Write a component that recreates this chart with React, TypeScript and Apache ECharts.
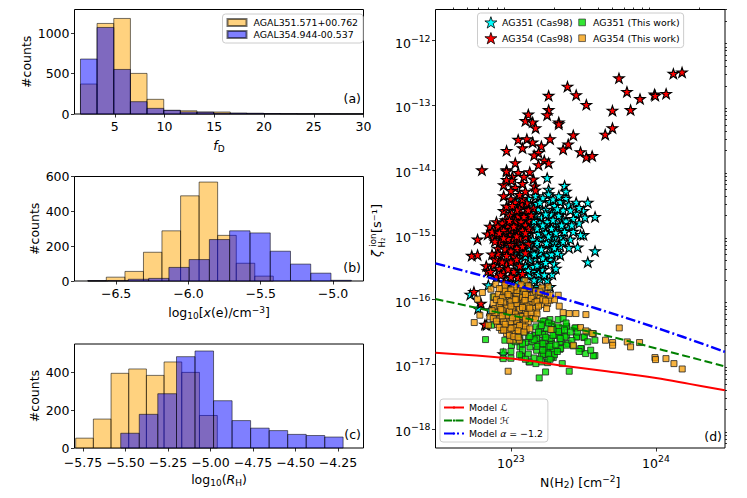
import React, { useEffect, useRef } from "react";
import * as echarts from "echarts";

const FONT = "DejaVu Sans";

// Panel (a)
const edgesA = [1.55, 3.22, 4.9, 6.57, 8.24, 9.92, 11.59, 13.26, 14.94, 16.61, 18.28, 19.96, 21.63, 23.3, 24.98, 26.65, 28.32, 30];
const orangeA = [372, 1124, 1186, 504, 182, 45, 40, 25, 25, 10, 8, 6, 4, 2, 2, 1, 1];
const blueA = [682, 1074, 553, 153, 70, 45, 25, 22, 10, 10, 8, 5, 3, 2, 2, 1, 1];

// Panel (b)
const edgesOrangeB = [-6.696, -6.568, -6.439, -6.311, -6.183, -6.054, -5.926, -5.798, -5.669, -5.541, -5.413];
const orangeB = [2, 22, 55, 165, 288, 489, 568, 262, 102, 28];
const edgesBlueB = [-6.696, -6.556, -6.416, -6.275, -6.135, -5.995, -5.855, -5.715, -5.574, -5.434, -5.294, -5.154, -5.014, -4.873];
const blueB = [1, 3, 10, 15, 78, 123, 238, 288, 276, 171, 97, 45, 4];

// Panel (c)
const edgesOrangeC = [-5.793, -5.689, -5.585, -5.481, -5.377, -5.273, -5.169, -5.065, -4.96];
const orangeC = [52, 153, 395, 418, 384, 455, 400, 172];
const edgesBlueC = [-5.528, -5.419, -5.31, -5.2, -5.091, -4.982, -4.873, -4.764, -4.655, -4.546, -4.437, -4.328, -4.22];
const blueC = [78, 178, 287, 483, 513, 250, 145, 105, 92, 72, 66, 58];

// Panel (d): [log10 N(H2), log10 zeta]
const modelL = [[22.48, -16.82], [23.0, -16.91], [23.36, -17.02], [23.66, -17.105], [24.0, -17.21], [24.23, -17.3], [24.475, -17.4]];
const modelH = [[22.48, -15.99], [23.0, -16.24], [23.59, -16.52], [24.05, -16.78], [24.475, -17.03]];
const modelA = [[22.48, -15.44], [22.82, -15.64], [23.29, -15.94], [23.59, -16.137], [24.05, -16.47], [24.475, -16.806]];

const cyanStars = [
  [23.25, -14.12], [23.37, -14.24], [23.38, -14.33], [23.26, -14.3], [23.26, -14.37], [23.17, -14.4], [23.22, -14.43], [23.38, -14.44],
  [23.27, -14.49], [23.34, -14.49], [23.45, -14.5], [23.53, -14.5], [23.4, -14.54], [23.24, -14.61], [23.36, -14.62], [23.3, -14.65],
  [23.45, -14.67], [23.5, -14.63], [23.58, -14.72], [23.51, -14.73], [23.26, -14.73], [23.165, -14.69], [23.21, -14.74], [23.36, -14.76],
  [23.04, -14.45], [23.35, -14.77], [23.38, -14.79], [23.4, -14.9], [23.34, -14.91], [23.27, -14.95], [23.2, -14.82], [23.23, -14.88],
  [23.5, -15.0], [23.48, -15.0], [23.41, -15.07], [23.46, -15.19], [23.58, -15.25], [23.53, -15.42], [23.34, -15.17], [23.28, -15.22],
  [23.34, -15.31], [23.25, -15.31], [23.17, -15.36], [23.19, -15.18], [23.21, -15.05], [23.26, -15.11], [23.27, -15.38], [23.22, -15.44],
  [23.16, -15.56], [23.1, -15.47], [23.285, -15.61], [23.22, -15.54], [23.25, -15.7], [22.99, -15.67], [23.17, -15.8], [23.1, -15.89],
  [22.72, -15.92], [23.06, -15.39], [23.14, -15.27], [23.155, -15.49], [23.245, -15.13], [22.98, -15.16], [23.03, -15.21], [23.06, -15.25],
  [23.11, -15.13], [23.19, -14.98], [23.14, -14.85], [23.3, -15.05], [23.12, -14.98], [23.05, -15.11], [23.13, -15.62],
  [22.774, -16.137], [22.862, -16.178], [22.832, -16.394], [22.947, -16.84], [22.844, -15.776], [23.092, -15.889], [23.062, -15.889], [22.855, -16.162],
  [23.15, -14.56], [23.19, -14.6], [23.3, -14.55], [23.33, -14.7], [23.41, -14.62], [23.43, -14.75], [23.47, -14.82], [23.31, -14.82],
  [23.24, -14.97], [23.35, -15.03], [23.3, -15.13], [23.15, -15.08], [23.2, -15.28], [23.12, -15.2], [23.28, -15.3], [23.3, -15.45],
  [23.18, -15.47], [23.13, -15.38], [23.08, -15.3], [23.12, -14.75], [23.18, -14.9], [23.25, -14.8], [23.08, -15.0], [23.02, -15.3],
  [23.07, -15.55], [23.2, -15.68], [23.04, -15.72], [23.1, -15.75], [23.28, -14.9], [23.22, -15.36], [23.28, -14.68], [23.35, -14.85],
  [23.18, -14.52], [23.29, -14.45], [23.32, -14.6], [23.24, -14.68], [23.16, -14.78], [23.22, -14.85], [23.29, -14.77], [23.37, -14.95],
  [23.43, -14.95], [23.31, -14.97], [23.26, -15.02], [23.18, -15.12], [23.13, -15.15], [23.21, -15.22], [23.3, -15.2], [23.36, -15.1],
  [23.4, -15.2], [23.16, -15.3], [23.24, -15.43], [23.31, -15.52], [23.19, -15.6], [23.1, -15.33], [23.05, -15.47], [23.12, -15.55],
  [23.03, -15.6], [23.16, -15.7], [23.23, -15.62], [23.08, -15.68], [23.27, -15.8], [23.2, -15.83], [23.13, -15.8], [23.01, -15.8],
  [23.32, -15.28], [23.14, -14.66], [23.09, -14.53], [23.2, -14.5], [23.12, -14.44], [23.42, -14.85], [23.47, -14.58], [23.33, -14.4],
];

const redStars = [
  [24.18, -12.49], [24.12, -12.51], [23.745, -12.58], [23.8, -12.79], [23.89, -12.9], [23.99, -12.83], [23.995, -12.85], [24.07, -12.82],
  [23.39, -12.71], [23.45, -12.84], [23.52, -12.99], [23.26, -12.85], [23.26, -13.07], [23.25, -13.15], [23.7, -13.08], [23.825, -13.07],
  [23.12, -13.14], [23.1, -13.24], [23.15, -13.26], [23.17, -13.35], [23.33, -13.26], [23.33, -13.29], [23.7, -13.35], [23.65, -13.45],
  [23.43, -13.46], [23.27, -13.52], [23.05, -13.53], [23.11, -13.52], [23.15, -13.57], [23.08, -13.66], [23.21, -13.63], [23.395, -13.6],
  [23.36, -13.68], [23.48, -13.72], [23.52, -13.8], [23.56, -13.78], [22.97, -13.7], [23.19, -13.73], [23.16, -13.77], [23.23, -13.85],
  [23.26, -13.89], [23.19, -13.92], [23.03, -13.89], [22.97, -14.0], [22.8, -14.0], [22.97, -14.02], [23.05, -14.04], [23.01, -14.1],
  [23.155, -14.14], [23.08, -14.21], [23.005, -14.16], [22.95, -14.23], [23.03, -14.27], [23.165, -14.25], [23.17, -14.31], [22.95, -14.4],
  [23.07, -14.52], [23.11, -14.51], [23.155, -14.59], [22.95, -14.63], [22.97, -14.56], [23.05, -14.69], [23.1, -14.67], [23.005, -14.67],
  [23.015, -14.77], [22.77, -15.07], [22.73, -15.32], [22.77, -15.31], [22.83, -15.48], [22.88, -15.47], [22.84, -15.56], [22.92, -15.52],
  [22.97, -15.46], [22.92, -15.4], [22.9, -15.65], [22.95, -15.58], [22.955, -15.73], [23.02, -15.57], [23.05, -15.66], [23.02, -15.33],
  [22.95, -15.29], [23.12, -15.14], [23.04, -15.11], [22.97, -15.12], [22.92, -15.13], [22.88, -15.05], [22.84, -14.99], [22.89, -14.93],
  [22.93, -14.9], [22.97, -14.89], [22.855, -14.87], [22.9, -14.8], [22.96, -14.77], [23.05, -14.71], [23.12, -14.78], [23.09, -14.89],
  [23.13, -14.93], [23.04, -14.95], [23.005, -14.81], [22.99, -15.0], [23.05, -14.85], [22.935, -15.03], [23.04, -15.21], [22.91, -15.21],
  [22.745, -15.879], [22.793, -16.059], [22.821, -16.384],
  [23.0, -14.45], [23.03, -14.5], [23.06, -14.6], [23.12, -14.62], [23.09, -14.72], [22.99, -14.7], [23.03, -14.78], [23.07, -14.8],
  [23.1, -14.85], [22.98, -14.85], [22.94, -14.82], [23.0, -14.92], [23.06, -14.97], [23.1, -15.03], [23.02, -15.05], [22.96, -14.97],
  [22.9, -15.0], [22.93, -15.1], [23.0, -15.15], [23.08, -15.18], [23.06, -15.05], [23.12, -14.9], [23.0, -15.25], [22.96, -15.22], [23.1, -15.28],
  [22.87, -14.95], [22.91, -14.87], [22.95, -14.93], [22.99, -14.78], [23.02, -14.87], [23.08, -14.93], [22.92, -14.97], [22.98, -15.06],
  [23.04, -15.02], [22.95, -15.05], [22.89, -15.1], [22.91, -15.29], [22.97, -15.32], [23.0, -15.42], [23.04, -15.38], [22.94, -15.42],
  [23.06, -15.48], [22.98, -15.53], [22.89, -15.38], [22.86, -15.57], [23.08, -15.6], [23.0, -15.65], [22.93, -15.62], [22.87, -15.3],
  [23.1, -14.97], [23.04, -14.62], [23.08, -14.45], [23.14, -14.7], [23.01, -14.55], [23.06, -14.38], [23.0, -14.32], [23.1, -14.33],
  [22.97, -14.15], [23.13, -14.03], [23.09, -14.1],
];

const greenSquares = [
  [22.825, -16.616], [23.195, -17.208], [23.239, -17.116], [23.402, -17.105], [23.354, -16.987], [23.253, -16.972], [23.211, -16.961], [23.172, -16.987],
  [23.126, -16.961], [23.073, -16.884], [23.0, -16.905], [22.947, -16.91], [22.947, -16.807], [23.292, -16.894], [23.257, -16.91], [23.211, -16.858],
  [23.234, -16.807], [23.287, -16.781], [23.338, -16.766], [23.43, -16.714], [23.487, -16.755], [23.515, -16.832], [23.579, -16.863], [23.579, -16.626],
  [23.503, -16.585], [23.452, -16.575], [23.448, -16.436], [23.384, -16.41], [23.326, -16.307], [23.269, -16.307], [23.234, -16.328], [23.172, -16.42],
  [23.165, -16.549], [23.234, -16.523], [23.28, -16.626], [23.349, -16.652], [23.395, -16.678], [23.211, -16.652], [23.131, -16.729], [23.062, -16.729],
  [23.004, -16.704], [22.958, -16.626], [23.062, -16.6], [23.177, -16.781], [23.234, -16.729], [23.303, -16.549], [23.349, -16.498], [23.384, -16.549],
  [23.315, -16.446], [23.245, -16.446], [22.866, -16.394], [22.878, -15.957], [23.36, -16.29], [23.074, -16.873], [23.127, -16.961], [23.12, -16.6],
  [23.166, -16.549], [23.219, -16.538], [23.223, -16.332], [23.384, -16.42], [23.327, -16.42], [23.331, -16.549], [23.373, -16.575], [23.442, -16.436],
  [23.453, -16.575], [23.506, -16.575], [23.568, -16.523], [23.568, -16.868], [23.481, -16.755], [23.343, -16.755], [23.384, -16.703], [23.281, -16.884],
  [23.223, -16.848], [23.258, -16.781], [23.292, -16.781], [23.235, -16.626], [23.184, -16.678], [23.246, -16.729], [23.177, -16.6], [23.281, -16.678],
  [23.338, -16.652], [23.269, -16.6], [23.15, -16.65], [23.1, -16.66], [23.05, -16.55], [23.1, -16.5], [23.2, -16.45], [23.28, -16.38],
  [23.0, -16.8], [23.03, -16.65], [23.08, -16.78], [23.12, -16.84], [23.16, -16.9], [23.2, -16.92], [23.18, -16.72], [23.22, -16.68],
  [23.27, -16.72], [23.31, -16.7], [23.3, -16.85], [23.26, -16.84], [23.22, -16.78], [23.16, -16.62], [23.13, -16.57], [23.19, -16.5],
  [23.24, -16.58], [23.29, -16.55], [23.33, -16.49], [23.29, -16.46], [23.37, -16.47], [23.41, -16.5], [23.42, -16.63], [23.34, -16.6],
  [23.32, -16.8], [23.27, -16.92], [23.08, -16.68], [23.0, -16.6], [23.06, -16.85], [23.1, -16.92], [23.21, -16.4], [23.26, -16.36],
  [23.38, -16.36], [23.46, -16.5], [23.53, -16.65], [23.55, -16.78], [23.47, -16.8], [23.53, -16.5],
];

const orangeSquares = [
  [22.747, -16.353], [22.786, -16.24], [23.333, -16.1], [23.326, -15.931], [23.402, -16.214], [23.36, -16.2], [23.448, -16.214], [23.517, -16.23],
  [23.747, -16.436], [23.48, -16.431], [23.517, -16.482], [23.561, -16.523], [23.43, -16.704], [23.652, -16.626], [23.701, -16.662], [23.701, -16.704],
  [23.802, -16.652], [23.825, -16.729], [23.887, -16.662], [23.993, -16.894], [23.997, -16.925], [24.069, -16.91], [24.124, -16.987], [24.181, -17.07],
  [22.981, -17.105], [23.276, -16.461], [23.108, -16.461], [22.77, -15.992], [22.803, -15.889], [22.885, -15.956],
  [22.936, -15.828], [22.97, -15.853], [23.016, -15.802], [23.062, -15.817], [23.131, -15.828], [23.212, -15.817], [22.913, -15.92], [22.963, -15.931],
  [23.016, -15.905], [23.062, -15.92], [23.12, -15.941], [23.154, -15.931], [23.223, -15.92], [22.878, -16.059], [22.924, -16.008], [22.97, -15.982],
  [23.016, -15.982], [23.051, -16.008], [23.154, -16.034], [23.212, -16.075], [23.253, -16.059], [22.89, -16.137], [22.936, -16.111], [22.982, -16.085],
  [23.028, -16.111], [23.074, -16.095], [23.12, -16.126], [23.177, -16.162], [23.246, -16.137], [22.855, -16.265], [22.913, -16.214], [22.959, -16.214],
  [23.005, -16.188], [23.051, -16.229], [23.097, -16.24], [23.154, -16.265], [22.878, -16.291], [22.924, -16.291], [22.97, -16.291], [23.028, -16.291],
  [23.085, -16.317], [23.131, -16.291], [22.844, -16.394], [22.908, -16.384], [22.959, -16.42], [23.005, -16.394], [23.051, -16.384], [22.936, -16.472],
  [22.97, -16.435], [23.028, -16.472], [23.074, -16.446], [22.97, -16.523], [23.016, -16.523], [23.051, -16.497], [23.016, -16.626], [23.058, -16.626], [22.993, -16.626],
  [22.95, -15.88], [22.99, -15.87], [23.04, -15.86], [23.09, -15.87], [23.17, -15.87], [22.94, -15.97], [22.99, -15.95], [23.04, -15.95],
  [23.08, -15.97], [23.14, -15.98], [22.9, -16.0], [22.95, -16.05], [23.0, -16.03], [23.04, -16.06], [23.09, -16.04], [23.13, -16.08],
  [22.92, -16.09], [22.97, -16.13], [23.01, -16.15], [23.06, -16.15], [23.1, -16.17], [23.15, -16.13], [22.89, -16.2], [22.94, -16.17],
  [22.98, -16.24], [23.03, -16.22], [23.07, -16.26], [23.11, -16.23], [22.9, -16.33], [22.95, -16.34], [23.0, -16.34], [23.04, -16.33],
  [23.09, -16.37], [22.92, -16.43], [22.98, -16.47], [23.03, -16.43], [22.99, -16.55],
  [22.895, -15.766], [22.959, -15.853], [23.023, -15.802], [23.097, -15.709], [23.12, -15.786], [23.189, -15.92], [23.258, -15.802], [23.253, -15.905],
  [23.269, -16.008], [23.039, -15.992], [23.097, -16.008], [23.166, -16.044], [22.862, -15.838], [22.959, -15.776],
  [22.92, -15.83], [23.0, -15.85], [23.07, -15.77], [23.1, -15.92], [23.2, -15.98], [23.18, -16.03], [23.22, -16.0], [23.24, -16.02],
  [23.19, -16.1], [23.14, -16.2], [23.18, -16.22], [23.17, -16.3], [23.12, -16.34], [23.06, -16.4], [23.1, -16.42], [23.13, -16.45],
  [23.0, -16.44], [23.05, -16.48], [23.09, -16.5], [22.96, -16.38], [22.94, -16.25], [22.87, -16.17], [22.93, -16.03], [23.03, -16.0],
  [23.11, -16.1], [23.08, -16.12], [22.99, -16.18], [23.04, -16.27], [23.01, -16.28], [23.1, -16.3], [22.95, -16.47], [23.02, -16.57],
  [23.05, -16.58], [23.3, -16.0], [23.27, -15.93], [23.2, -15.88], [23.13, -16.13], [22.98, -15.92], [23.0, -16.1], [22.93, -16.15],
];

const ticksAx = [5, 10, 15, 20, 25, 30];
const ticksAy = [0, 500, 1000];
const ticksBx = [-6.5, -6, -5.5, -5];
const ticksBy = [0, 200, 400, 600];
const ticksCx = [-5.75, -5.5, -5.25, -5, -4.75, -4.5, -4.25];
const ticksCy = [0, 200, 400];
const decadesDx = [22, 23, 24];
const decadesDy = [-19, -18, -17, -16, -15, -14, -13, -12];
const ticksDx = [23, 24];
const ticksDy = [-18, -17, -16, -15, -14, -13, -12];

const LEGEND_A = ["AGAL351.571+00.762", "AGAL354.944-00.537"];
const STAR = "path://M50 0L61.8 35.5H100L69 57.6L80.9 95.1L50 73L19.1 95.1L31 57.6L0 35.5H38.2Z";
const SQUARE_ICON = "path://M0 0L0 0M100 100L100 100M22 22H78V78H22Z";

const minorOf = (decades: number[]) => decades.flatMap((d) => [2, 3, 4, 5, 6, 7, 8, 9].map((m) => d + Math.log10(m)));
const minus = (s: string) => s.replace("-", "\u2212");

const ORANGE = "rgba(255,165,0,0.5)";
const BLUE = "rgba(0,0,255,0.5)";
const EDGE = "rgba(0,0,0,0.55)";

const histo = (name: string, gridIdx: number, edges: number[], counts: number[], fill: string) => ({
  type: "custom",
  name,
  xAxisIndex: gridIdx,
  yAxisIndex: gridIdx,
  silent: true,
  clip: false,
  itemStyle: { color: fill, borderColor: EDGE, borderWidth: 1 },
  encode: { x: [0, 1], y: 2 },
  data: counts.map((c, i) => [edges[i], edges[i + 1], c]),
  renderItem: (_p: any, api: any) => {
    const a = api.coord([api.value(0), api.value(2)]);
    const b = api.coord([api.value(1), 0]);
    return {
      type: "rect",
      shape: { x: a[0], y: a[1], width: b[0] - a[0], height: b[1] - a[1] },
      style: { fill, stroke: EDGE, lineWidth: 1 },
    };
  },
});

const tickStyle = { lineStyle: { color: "#000", width: 0.8 } };
const labelSize = 12.5;
const nameRich = {
  i: { fontFamily: FONT, fontSize: labelSize, fontStyle: "italic", color: "#000" },
  sub: { fontFamily: FONT, fontSize: 9, verticalAlign: "bottom", color: "#000", padding: [6, 0, 0, 0] },
  sup: { fontFamily: FONT, fontSize: 9, verticalAlign: "top", color: "#000", padding: [0, 0, 6, 0] },
};

const xAxisOf = (gridIndex: number, min: number, max: number, ticks: number[], fmt: (v: number) => string, name: string, nameGap: number, margin = 6) => ({
  type: "value",
  gridIndex,
  min,
  max,
  name,
  nameLocation: "middle",
  nameGap,
  nameTextStyle: { fontFamily: FONT, fontSize: labelSize, color: "#000", rich: nameRich },
  axisLine: { show: false },
  splitLine: { show: false },
  axisTick: { show: true, length: 3.5, customValues: ticks, ...tickStyle },
  axisLabel: { show: true, customValues: ticks, formatter: fmt, fontFamily: FONT, fontSize: labelSize, color: "#000", margin, hideOverlap: false },
});

const yAxisOf = (gridIndex: number, min: number, max: number, ticks: number[], nameGap: number) => ({
  type: "value",
  gridIndex,
  min,
  max,
  name: "#counts",
  nameLocation: "middle",
  nameGap,
  nameTextStyle: { fontFamily: FONT, fontSize: labelSize, color: "#000" },
  axisLine: { show: false },
  splitLine: { show: false },
  axisTick: { show: true, length: 3.5, customValues: ticks, ...tickStyle },
  axisLabel: { show: true, customValues: ticks, formatter: (v: number) => String(v), fontFamily: FONT, fontSize: labelSize, color: "#000", margin: 5, hideOverlap: false },
});

const logRich = {
  b: { fontFamily: FONT, fontSize: 12.5, color: "#000", padding: [5, 0, 0, 0] },
  s: { fontFamily: FONT, fontSize: 9.3, color: "#000", padding: [0, 0, 5, 0] },
};

const minorAxis = (gridIndex: number, min: number, max: number, ticks: number[]) => ({
  type: "value",
  gridIndex,
  min,
  max,
  axisLine: { show: false },
  splitLine: { show: false },
  axisLabel: { show: false },
  axisTick: { show: true, length: 2, customValues: ticks, ...tickStyle },
});

const panelLabel = (text: string, x: number, y: number) => ({
  type: "text",
  x,
  y,
  z: 20,
  style: { text, fontFamily: FONT, fontSize: 12.5, fill: "#000", textAlign: "right", textVerticalAlign: "middle" },
});

const rotated = (text: string, x: number, y: number, fontSize: number, fontStyle = "normal") => ({
  type: "text",
  x,
  y,
  rotation: Math.PI / 2,
  z: 20,
  style: { text, fontFamily: FONT, fontSize, fontStyle, fill: "#000", textAlign: "left", textVerticalAlign: "middle" },
});

const scatter = (name: string, data: number[][], symbol: string, size: number, color: string, borderColor: string, borderWidth: number, opacity: number) => ({
  type: "scatter",
  name,
  xAxisIndex: 3,
  yAxisIndex: 3,
  symbol,
  symbolSize: size,
  symbolKeepAspect: true,
  silent: true,
  itemStyle: { color, borderColor, borderWidth, opacity },
  data,
});

const line = (name: string, data: number[][], color: string, type: any, width: number) => ({
  type: "line",
  name,
  xAxisIndex: 3,
  yAxisIndex: 3,
  symbol: "none",
  smooth: 0.4,
  silent: true,
  lineStyle: { color, type, width },
  itemStyle: { color },
  data,
});

const legendBox = {
  backgroundColor: "rgba(255,255,255,0.85)",
  borderColor: "#ccc",
  borderWidth: 1,
  borderRadius: 3,
  selectedMode: false,
};

const option: any = {
  animation: false,
  backgroundColor: "#fff",
  textStyle: { fontFamily: FONT },
  grid: [
    { left: 74.5, top: 9.5, width: 289, height: 104.5 },
    { left: 74.5, top: 176.5, width: 289, height: 104.5 },
    { left: 74.5, top: 344, width: 289, height: 104 },
    { left: 435.5, top: 9.5, width: 289.5, height: 438.5 },
  ].map((g) => ({ ...g, show: true, borderColor: "#000", borderWidth: 1, backgroundColor: "transparent" })),
  xAxis: [
    xAxisOf(0, 0.95, 30, ticksAx, (v) => String(v), "{i|f}{sub|D}", 24),
    xAxisOf(1, -6.788, -4.789, ticksBx, (v) => minus(v.toFixed(1)), "log{sub|10}[{i|x}(e)/cm{sup|\u22123}]", 24),
    xAxisOf(2, -5.8, -4.1, ticksCx, (v) => minus(v.toFixed(2)), "log{sub|10}({i|R}{sub|H})", 24, 7.5),
    {
      ...xAxisOf(3, 22.48, 24.476, ticksDx, (v) => `{b|10}{s|${v}}`, "N(H{sub|2}) [cm{sup|\u22122}]", 24),
      axisLabel: { show: true, customValues: ticksDx, formatter: (v: number) => `{b|10}{s|${v}}`, rich: logRich, margin: 4, hideOverlap: false },
    },
    minorAxis(3, 22.48, 24.476, minorOf(decadesDx)),
  ],
  yAxis: [
    yAxisOf(0, 0, 1297, ticksAy, 42),
    yAxisOf(1, 0, 600, ticksBy, 34),
    yAxisOf(2, 0, 550, ticksCy, 34),
    {
      type: "value",
      gridIndex: 3,
      min: -18.29,
      max: -11.52,
      axisLine: { show: false },
      splitLine: { show: false },
      axisTick: { show: true, length: 3.5, customValues: ticksDy, ...tickStyle },
      axisLabel: { show: true, customValues: ticksDy, formatter: (v: number) => `{b|10}{s|${minus(String(v))}}`, rich: logRich, margin: 5, hideOverlap: false },
    },
    minorAxis(3, -18.29, -11.52, minorOf(decadesDy)),
  ],
  legend: [
    {
      ...legendBox,
      left: 222.5,
      top: 14,
      orient: "vertical",
      itemWidth: 19,
      itemHeight: 7,
      itemGap: 3,
      padding: [4, 5, 4, 4],
      data: LEGEND_A.map((name) => ({ name, icon: "rect" })),
      textStyle: { fontFamily: FONT, fontSize: 9.4, color: "#000", padding: [0, 0, 0, 2] },
    },
    {
      ...legendBox,
      left: 477.5,
      top: 13,
      orient: "horizontal",
      width: 197,
      itemWidth: 12,
      itemHeight: 12,
      itemGap: 3,
      padding: [3, 4, 3, 7],
      data: [
        { name: "AG351 (Cas98)", icon: STAR, itemStyle: { borderWidth: 0.8 } },
        { name: "AG351 (This work)", icon: SQUARE_ICON, itemStyle: { borderWidth: 0.8 } },
        { name: "AG354 (Cas98)", icon: STAR, itemStyle: { borderWidth: 0.8 } },
        { name: "AG354 (This work)", icon: SQUARE_ICON, itemStyle: { borderWidth: 0.8 } },
      ],
      textStyle: { fontFamily: FONT, fontSize: 9.4, color: "#000", padding: [0, 6, 0, 0] },
    },
    {
      ...legendBox,
      left: 440,
      top: 399,
      orient: "vertical",
      itemWidth: 20,
      itemHeight: 3,
      itemGap: 4,
      padding: [4, 5, 4, 3],
      data: ["Model \u2112", "Model \u210B", "Model \u03B1 = \u22121.2"],
      formatter: (n: string) => n.replace("\u03B1", "{i|\u03B1}"),
      textStyle: { fontFamily: FONT, fontSize: 9.4, color: "#000", rich: { i: { fontFamily: FONT, fontSize: 9.4, fontStyle: "italic", color: "#000" } } },
    },
  ],
  graphic: [
    panelLabel("(a)", 361, 98),
    panelLabel("(b)", 361, 267),
    panelLabel("(c)", 361, 434),
    panelLabel("(d)", 722, 436),
    rotated("\u03B6", 376.5, 257, 12.5, "italic"),
    rotated("ion", 373, 246.5, 8.5),
    rotated("H\u2082", 381.5, 247.5, 8.5),
    rotated("[s\u207B\u00B9]", 376, 233, 13),
  ],
  series: [
    histo(LEGEND_A[0], 0, edgesA, orangeA, ORANGE),
    histo(LEGEND_A[1], 0, edgesA, blueA, BLUE),
    histo("AGAL351 x(e)", 1, edgesOrangeB, orangeB, ORANGE),
    histo("AGAL354 x(e)", 1, edgesBlueB, blueB, BLUE),
    histo("AGAL351 RH", 2, edgesOrangeC, orangeC, ORANGE),
    histo("AGAL354 RH", 2, edgesBlueC, blueC, BLUE),
    line("Model \u2112", modelL, "#ff0000", "solid", 2),
    line("Model \u210B", modelH, "#008000", [8, 3.5], 2),
    line("Model \u03B1 = \u22121.2", modelA, "#0000ff", [10, 3, 2, 3], 2.5),
    scatter("AG351 (Cas98)", cyanStars, STAR, 10.5, "#00ffff", "#000", 1.1, 1),
    scatter("AG354 (Cas98)", redStars, STAR, 10.5, "#ff0000", "#000", 1.1, 1),
    scatter("AG351 (This work)", greenSquares, "rect", 6, "#00e000", "#222", 1, 0.8),
    scatter("AG354 (This work)", orangeSquares, "rect", 6, "#f5a010", "#222", 1, 0.8),
  ],
};

export default function App() {
  const ref = useRef<HTMLDivElement>(null);
  useEffect(() => {
    const chart = echarts.init(ref.current as HTMLDivElement, undefined, { renderer: "svg" });
    chart.setOption(option);
    return () => chart.dispose();
  }, []);
  return <div ref={ref} style={{ position: "fixed", left: 0, top: 0, width: 747, height: 498, background: "#fff" }} />;
}
